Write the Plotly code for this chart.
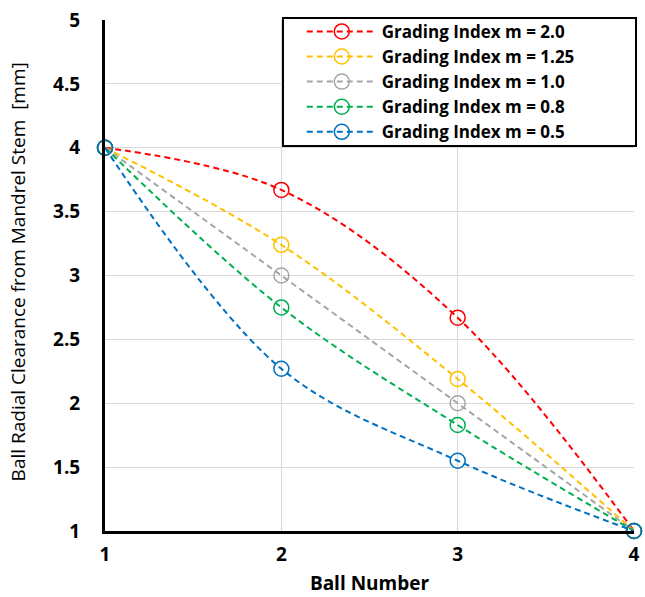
import plotly.graph_objects as go

ball_number = [1, 2, 3, 4]
series_names = ["Grading Index m = 2.0", "Grading Index m = 1.25", "Grading Index m = 1.0",
                "Grading Index m = 0.8", "Grading Index m = 0.5"]
m20 = [4.0, 3.67, 2.67, 1.0]
m125 = [4.0, 3.24, 2.19, 1.0]
m10 = [4.0, 3.0, 2.0, 1.0]
m08 = [4.0, 2.75, 1.83, 1.0]
m05 = [4.0, 2.27, 1.55, 1.0]
colors = ["#FF0000", "#FFC000", "#A5A5A5", "#00B050", "#0070C0"]
y_title = "Ball Radial Clearance from Mandrel Stem  [mm]"

FONT = "Open Sans"
fig = go.Figure()
for name, ys, c in zip(series_names, [m20, m125, m10, m08, m05], colors):
    fig.add_trace(go.Scatter(
        x=ball_number, y=ys, name=name, mode="lines+markers",
        line=dict(color=c, width=2, dash="6px,4px", shape="spline", smoothing=1),
        marker=dict(symbol="circle-open", size=15, color=c, line=dict(width=1.5, color=c)),
    ))

# legend frame drawn as a rectangle (paper coordinates)
fig.add_shape(type="rect", xref="paper", yref="paper",
              x0=0.3365, x1=1.0038, y0=0.7534, y1=1.0039,
              line=dict(color="black", width=2), fillcolor="white", layer="above")

# y-axis title as rotated text
fig.add_annotation(text=y_title, xref="paper", yref="paper", x=-0.1645, y=0.508,
                   xanchor="center", yanchor="middle", textangle=-90, showarrow=False,
                   font=dict(family=FONT, size=19, color="black"))

fig.update_layout(
    width=645, height=597,
    margin=dict(l=105, r=11, t=20, b=66),
    paper_bgcolor="white", plot_bgcolor="white",
    font=dict(family=FONT, size=17, color="black"),
    legend=dict(
        x=0.372, y=1.012, xanchor="left", yanchor="top",
        borderwidth=0, bgcolor="rgba(0,0,0,0)",
        font=dict(family=FONT, size=17, color="black", weight="bold"),
        itemwidth=70, tracegroupgap=0,
    ),
    xaxis=dict(
        range=[1, 4], tickvals=[1, 2, 3, 4], showgrid=True, gridcolor="#D9D9D9", gridwidth=1,
        showline=True, linecolor="black", linewidth=3, zeroline=False, automargin=False,
        tickfont=dict(family=FONT, size=19, weight="bold"), ticks="", ticklabelstandoff=4,
        title=dict(text="Ball Number", font=dict(family=FONT, size=19, weight="bold"), standoff=11),
    ),
    yaxis=dict(
        range=[1, 5], dtick=0.5, showgrid=True, gridcolor="#D9D9D9", gridwidth=1,
        showline=True, linecolor="black", linewidth=3, zeroline=False, automargin=False,
        tickfont=dict(family=FONT, size=19, weight="bold"), ticks="", ticklabelstandoff=18,
    ),
)
fig.update_traces(cliponaxis=False)
fig.write_html("out.html")
